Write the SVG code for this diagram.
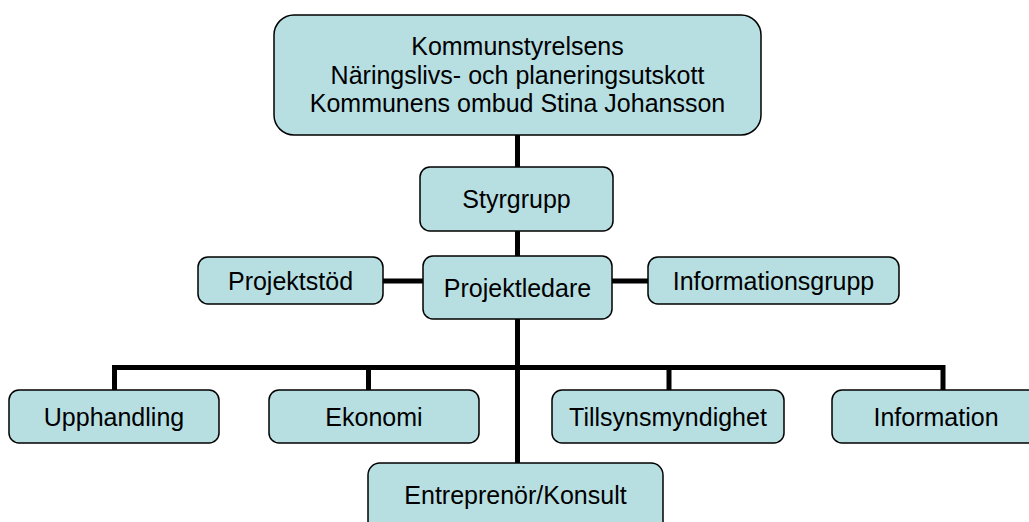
<svg xmlns="http://www.w3.org/2000/svg" width="1029" height="522" viewBox="0 0 1029 522">
<style>
.box{fill:#B7DFE2;stroke:#000;stroke-width:1.5}
.t{font-family:"Liberation Sans",Arial,sans-serif;font-size:25px;fill:#000;text-anchor:middle}
.c{stroke:#000;stroke-width:5;fill:none;stroke-linecap:butt}
</style>
<rect width="1029" height="522" fill="#fff"/>
<g id="connectors">
<line class="c" x1="517.5" y1="135" x2="517.5" y2="167"/>
<line class="c" x1="517.5" y1="231" x2="517.5" y2="256"/>
<line class="c" x1="383" y1="281" x2="423" y2="281"/>
<line class="c" x1="612" y1="281" x2="648" y2="281"/>
<line class="c" x1="517.5" y1="319" x2="517.5" y2="463"/>
<polyline class="c" points="114.5,390 114.5,367.5 943,367.5 943,390"/>
<line class="c" x1="368.5" y1="367.5" x2="368.5" y2="390"/>
<line class="c" x1="669" y1="367.5" x2="669" y2="390"/>
</g>
<g id="top">
<rect class="box" x="274" y="15" width="487" height="120" rx="20"/>
<text class="t" x="517.5" y="55">Kommunstyrelsens</text>
<text class="t" x="517.5" y="83.5">Näringslivs- och planeringsutskott</text>
<text class="t" x="517.5" y="112">Kommunens ombud Stina Johansson</text>
</g>
<g id="styrgrupp">
<rect class="box" x="420" y="167" width="193" height="64" rx="10"/>
<text class="t" x="516.5" y="208">Styrgrupp</text>
</g>
<g id="projektstod">
<rect class="box" x="198" y="257" width="185" height="47" rx="10"/>
<text class="t" x="290.5" y="289.5">Projektstöd</text>
</g>
<g id="projektledare">
<rect class="box" x="423" y="256" width="189" height="63" rx="10"/>
<text class="t" x="517.5" y="296.5">Projektledare</text>
</g>
<g id="informationsgrupp">
<rect class="box" x="648" y="257" width="251" height="47" rx="10"/>
<text class="t" x="773.5" y="289.5">Informationsgrupp</text>
</g>
<g id="upphandling">
<rect class="box" x="9" y="390" width="210" height="53" rx="10"/>
<text class="t" x="114" y="425.5">Upphandling</text>
</g>
<g id="ekonomi">
<rect class="box" x="269" y="390" width="210" height="53" rx="10"/>
<text class="t" x="374" y="425.5">Ekonomi</text>
</g>
<g id="tillsyn">
<rect class="box" x="552" y="390" width="232" height="53" rx="10"/>
<text class="t" x="668" y="425.5">Tillsynsmyndighet</text>
</g>
<g id="information">
<rect class="box" x="832" y="390" width="208" height="53" rx="10"/>
<text class="t" x="936" y="425.5">Information</text>
</g>
<g id="entreprenor">
<rect class="box" x="368" y="463" width="295" height="82" rx="12"/>
<text class="t" x="515.5" y="504">Entreprenör/Konsult</text>
</g>
</svg>
